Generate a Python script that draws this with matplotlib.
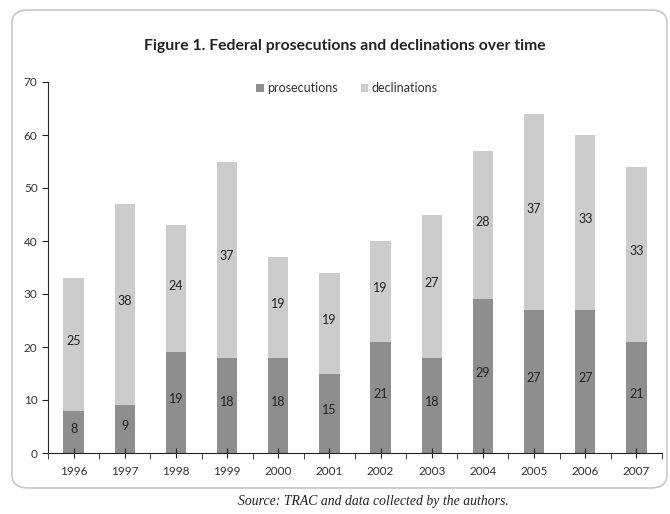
import matplotlib.pyplot as plt
import numpy as np
from matplotlib.patches import FancyBboxPatch
from matplotlib.ticker import MultipleLocator

years = ["1996", "1997", "1998", "1999", "2000", "2001", "2002", "2003", "2004", "2005", "2006", "2007"]
prosecutions = [8, 9, 19, 18, 18, 15, 21, 18, 29, 27, 27, 21]
declinations = [25, 38, 24, 37, 19, 19, 19, 27, 28, 37, 33, 33]

plt.rcParams['font.family'] = ['Lato', 'DejaVu Sans']

fig = plt.figure(figsize=(6.7, 5.14), dpi=100)
W, H = 670, 514

# rounded frame around the chart
frame = FancyBboxPatch((12 / W, 1 - 488 / H), 655 / W, 478 / H,
                       boxstyle="round,pad=0,rounding_size=0.025",
                       transform=fig.transFigure, facecolor="white",
                       edgecolor="#c8c8c8", linewidth=1.2, zorder=-5)
fig.patches.append(frame)

ax = fig.add_axes([48 / W, 1 - 453 / H, 614 / W, 371 / H])
ax.set_facecolor("none")
ax.set_zorder(2)

x = np.arange(len(years))
dark = "#8e8e8e"
light = "#cccccc"
ax.bar(x, prosecutions, width=0.4, color=dark, label="prosecutions")
ax.bar(x, declinations, width=0.4, bottom=prosecutions, color=light, label="declinations")

for i in range(len(years)):
    ax.text(x[i], prosecutions[i] / 2 + 0.6, str(prosecutions[i]), ha="center", va="center",
            fontsize=9, color="#222222")
    ax.text(x[i], prosecutions[i] + declinations[i] / 2 + 0.6, str(declinations[i]),
            ha="center", va="center", fontsize=9, color="#222222")

ax.set_xlim(-0.5, len(years) - 0.5)
ax.set_ylim(0, 70)
ax.yaxis.set_major_locator(MultipleLocator(10))
ax.set_xticks(x)
ax.set_xticklabels(years)
ax.set_xticks(np.arange(-0.5, len(years)), minor=True)

for side in ["top", "right"]:
    ax.spines[side].set_visible(False)
ax.spines["left"].set_color("#222222")
ax.spines["bottom"].set_color("#222222")
ax.tick_params(axis="y", direction="out", length=4, labelsize=8.5, labelcolor="#333333", color="#222222")
ax.tick_params(axis="x", which="major", direction="inout", length=7, labelsize=8.5,
               labelcolor="#333333", color="#222222", pad=6)
ax.tick_params(axis="x", which="minor", direction="out", length=4, color="#222222")

leg = ax.legend(loc="upper center", bbox_to_anchor=(0.487, 1.03), ncol=2, frameon=False,
                fontsize=9, handlelength=0.6, handleheight=0.6, handletextpad=0.3,
                columnspacing=1.8)
for t in leg.get_texts():
    t.set_color("#333333")

fig.text(345 / W, 1 - 46 / H, "Figure 1. Federal prosecutions and declinations over time",
         ha="center", va="center", fontsize=11.3, fontweight="bold", color="#222222")

fig.text(373 / W, 1 - 502 / H, "Source: TRAC and data collected by the authors.",
         ha="center", va="center", fontsize=9.9, style="italic",
         family=["Liberation Serif", "DejaVu Serif"], color="#222222")

fig.savefig("out.png", dpi=100)
